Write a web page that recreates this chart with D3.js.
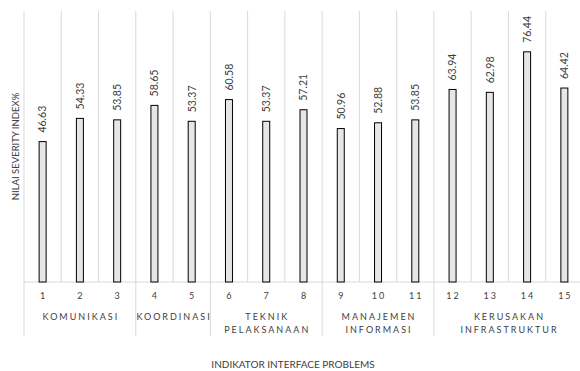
<!DOCTYPE html>
<html>
<head>
<meta charset="utf-8">
<script src="https://cdn.jsdelivr.net/npm/d3@7"></script>
<style>
  body { margin: 0; background: #fff; }
  svg { display: block; font-family: Lato, "Liberation Sans", sans-serif; }
</style>
</head>
<body>
<svg id="chart"></svg>
<script>
const indicators = ["1","2","3","4","5","6","7","8","9","10","11","12","13","14","15"];
const severity = [46.63, 54.33, 53.85, 58.65, 53.37, 60.58, 53.37, 57.21, 50.96, 52.88, 53.85, 63.94, 62.98, 76.44, 64.42];
const groupNames = [["KOMUNIKASI"], ["KOORDINASI"], ["TEKNIK", "PELAKSANAAN"], ["MANAJEMEN", "INFORMASI"], ["KERUSAKAN", "INFRASTRUKTUR"]];
const groupSizes = [3, 2, 3, 3, 4];

const width = 580, height = 371;
const plotLeft = 24, plotRight = 583, plotTop = 11, base = 282;

const svg = d3.select("#chart").attr("width", width).attr("height", height);

const x = d3.scaleBand().domain(indicators).range([plotLeft, plotRight]).padding(0);
const y = d3.scaleLinear().domain([0, 90]).range([base, plotTop]);

// vertical gridlines between bars
svg.append("g").selectAll("line")
  .data(indicators)
  .join("line")
  .attr("x1", d => x(d)).attr("x2", d => x(d))
  .attr("y1", plotTop).attr("y2", base)
  .attr("stroke", "#d9d9d9").attr("stroke-width", 1);

// baseline
svg.append("line")
  .attr("x1", plotLeft).attr("x2", plotRight)
  .attr("y1", base).attr("y2", base)
  .attr("stroke", "#d9d9d9");

// group separators below the axis
let start = 0;
const groups = groupSizes.map((n, i) => {
  const g = { names: groupNames[i], first: indicators[start], last: indicators[start + n - 1] };
  start += n;
  return g;
});
const sepX = [x(groups[0].first)].concat(groups.map(g => x(g.last) + x.bandwidth()));
svg.append("g").selectAll("line")
  .data(sepX)
  .join("line")
  .attr("x1", d => d).attr("x2", d => d)
  .attr("y1", base).attr("y2", 336)
  .attr("stroke", "#d9d9d9");

// bars
const barW = 7;
svg.append("g").selectAll("rect")
  .data(severity)
  .join("rect")
  .attr("x", (d, i) => x(indicators[i]) + x.bandwidth() / 2 - barW / 2)
  .attr("y", d => y(d))
  .attr("width", barW)
  .attr("height", d => base - y(d))
  .attr("fill", "#e7e6e6")
  .attr("stroke", "#000")
  .attr("stroke-width", 1);

// value labels
svg.append("g").selectAll("text")
  .data(severity)
  .join("text")
  .attr("transform", (d, i) => `translate(${x(indicators[i]) + x.bandwidth() / 2 + 3.8},${y(d) - 9}) rotate(-90)`)
  .attr("font-size", 10.5)
  .attr("fill", "#404040")
  .text(d => d.toFixed(2));

// indicator numbers
svg.append("g").selectAll("text")
  .data(indicators)
  .join("text")
  .attr("x", d => x(d) + x.bandwidth() / 2 + 1)
  .attr("y", 299)
  .attr("text-anchor", "middle")
  .attr("font-size", 9)
  .attr("letter-spacing", 2)
  .attr("fill", "#404040")
  .text(d => d);

// group labels
groups.forEach(g => {
  const cx = (x(g.first) + x(g.last) + x.bandwidth()) / 2;
  g.names.forEach((line, j) => {
    svg.append("text")
      .attr("x", cx + 1)
      .attr("y", 319.5 + j * 13.5)
      .attr("text-anchor", "middle")
      .attr("font-size", 9)
      .attr("letter-spacing", 2)
      .attr("fill", "#404040")
      .text(line);
  });
});

// axis titles
svg.append("text")
  .attr("transform", `translate(19,${(plotTop + base) / 2}) rotate(-90)`)
  .attr("text-anchor", "middle")
  .attr("font-size", 9.5)
  .attr("fill", "#404040")
  .text("NILAI SEVERITY INDEX%");

svg.append("text")
  .attr("x", 293)
  .attr("y", 368)
  .attr("text-anchor", "middle")
  .attr("font-size", 10)
  .attr("fill", "#404040")
  .text("INDIKATOR INTERFACE PROBLEMS");
</script>
</body>
</html>
